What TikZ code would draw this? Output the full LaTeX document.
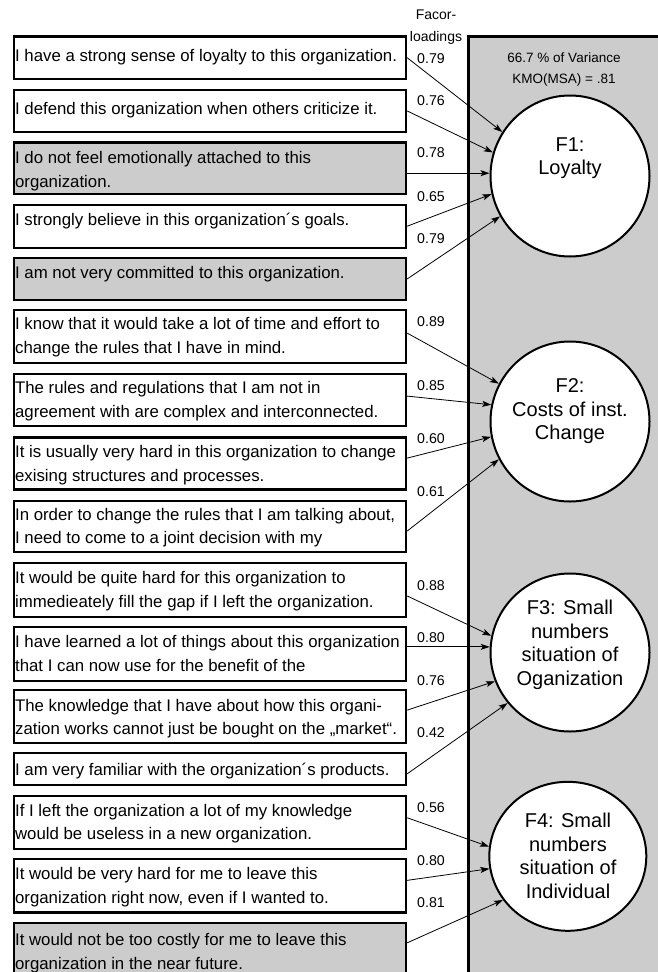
\documentclass[tikz,border=0pt]{standalone}
\usepackage{fontspec}
\setmainfont{Liberation Sans}
\usetikzlibrary{arrows.meta,shapes.geometric}
\definecolor{boxgray}{gray}{0.8}
\newcommand{\qtext}[3]{\parbox[c][#1][t]{390pt}{\raggedright\vspace*{#2}\strut#3}}
\tikzset{
  qbox/.style={draw, line width=2.2pt, fill=white, inner xsep=1pt, inner ysep=0pt,
    anchor=north west, font=\fontsize{16.8}{23.3}\selectfont},
  qgray/.style={qbox, fill=boxgray},
  factor/.style={draw, line width=2pt, fill=white, ellipse, inner sep=0pt},
  ftext/.style={align=center, inner sep=0pt, font=\fontsize{20}{23.5}\selectfont},
  load/.style={inner sep=0pt, font=\fontsize{14.2}{17}\selectfont},
  hdr/.style={align=center, inner sep=0pt},
  arr/.style={line width=0.8pt, -{Stealth[length=9pt,width=6pt,inset=2pt]}},
}
\begin{document}
\begin{tikzpicture}[x=1pt,y=-1pt]
\useasboundingbox (0,0) rectangle (658,972);
\clip (0,0) rectangle (658,972);
\fill[white] (0,0) rectangle (658,972);
% panel
\draw[fill=boxgray, line width=2.5pt] (468.3,36.5) rectangle (720,1020);
% header texts
\node[hdr, font=\fontsize{14}{22}\selectfont] (fl) at (436,27.3) {Facor-\\loadings};
\node[hdr, font=\fontsize{13.5}{21}\selectfont] (var) at (564,70) {66.7 \% of Variance\\KMO(MSA) = .81};
% item boxes
\node[qbox] (b1) at (13,35.3) {\qtext{42.7pt}{8.5pt}{I have a strong sense of loyalty to this organization.}};
\node[qbox] (b2) at (13,89) {\qtext{41.7pt}{8pt}{I defend this organization when others criticize it.}};
\node[qgray] (b3) at (13,141.3) {\qtext{51.7pt}{5pt}{I do not feel emotionally attached to this\\organization.}};
\node[qbox] (b4) at (13,203.5) {\qtext{43.2pt}{4.3pt}{I strongly believe in this organization´s goals.}};
\node[qgray] (b5) at (13,256.7) {\qtext{42.3pt}{4.5pt}{I am not very committed to this organization.}};
\node[qbox] (b6) at (13,309) {\qtext{53pt}{3.5pt}{I know that it would take a lot of time and effort to\\change the rules that I have in mind.}};
\node[qbox] (b7) at (13,373) {\qtext{52pt}{3.5pt}{The rules and regulations that I am not in\\agreement with are complex and interconnected.}};
\node[qbox] (b8) at (13,436.3) {\qtext{52pt}{4pt}{It is usually very hard in this organization to change\\exising structures and processes.}};
\node[qbox] (b9) at (13,499.7) {\qtext{51.3pt}{3.4pt}{In order to change the rules that I am talking about,\\I need to come to a joint decision with my}};
\node[qbox] (b10) at (13,562) {\qtext{53.7pt}{4.4pt}{It would be quite hard for this organization to\\immedieately fill the gap if I left the organization.}};
\node[qbox] (b11) at (13,625.7) {\qtext{54pt}{4.6pt}{I have learned a lot of things about this organization\\that I can now use for the benefit of the}};
\node[qbox] (b12) at (13,688.8) {\qtext{53.4pt}{4.8pt}{The knowledge that I have about how this organi-\\zation works cannot just be bought on the „market“.}};
\node[qbox] (b13) at (13,752.2) {\qtext{31.8pt}{5.6pt}{I am very familiar with the organization´s products.}};
\node[qbox] (b14) at (13,794.7) {\qtext{53.3pt}{4.3pt}{If I left the organization a lot of my knowledge\\would be useless in a new organization.}};
\node[qbox] (b15) at (13,858) {\qtext{53.3pt}{4.4pt}{It would be very hard for me to leave this\\organization right now, even if I wanted to.}};
\node[qgray] (b16) at (13,921.7) {\qtext{60pt}{6.8pt}{It would not be too costly for me to leave this\\organization in the near future.}};
% factors
\node[factor, minimum width=159pt, minimum height=161pt] (F1) at (570,176) {};
\node[factor, minimum width=159pt, minimum height=160pt] (F2) at (570,421.5) {};
\node[factor, minimum width=159pt, minimum height=158pt] (F3) at (570,652.5) {};
\node[factor, minimum width=157pt, minimum height=149pt] (F4) at (567.8,856.3) {};
\node[ftext] (F1t) at (570,158) {F1:\\Loyalty};
\node[ftext] (F2t) at (570,411.5) {F2:\\Costs of inst.\\Change};
\node[ftext] (F3t) at (570,645) {F3: Small\\numbers\\situation of\\Oganization};
\node[ftext] (F4t) at (568,856) {F4: Small\\numbers\\situation of\\Individual};
% loadings
\node[load] (l1) at (431,59) {0.79};
\node[load] (l2) at (431,100.8) {0.76};
\node[load] (l3) at (431,153) {0.78};
\node[load] (l4) at (431,196.7) {0.65};
\node[load] (l5) at (431,239) {0.79};
\node[load] (l6) at (431,322) {0.89};
\node[load] (l7) at (431,385.5) {0.85};
\node[load] (l8) at (431,438.8) {0.60};
\node[load] (l9) at (431,491.7) {0.61};
\node[load] (l10) at (431,586) {0.88};
\node[load] (l11) at (431,638) {0.80};
\node[load] (l12) at (431,681) {0.76};
\node[load] (l13) at (431,733) {0.42};
\node[load] (l14) at (431,807.8) {0.56};
\node[load] (l15) at (431,860.5) {0.80};
\node[load] (l16) at (431,902.5) {0.81};
% arrows
\draw[arr] (b1.east) -- (F1.147);
\draw[arr] (b2.east) -- (F1.163);
\draw[arr] (b3.east |- F1.178) -- (F1.178);
\draw[arr] (b4.east) -- (F1.193);
\draw[arr] (b5.east) -- (F1.210);
\draw[arr] ([yshift=3.5pt]b6.east) -- (F2.152);
\draw[arr] ([yshift=4pt]b7.east) -- (F2.168);
\draw[arr] ([yshift=5.3pt]b8.east) -- (F2.191);
\draw[arr] ([yshift=-4.6pt]b9.east) -- (F2.208);
\draw[arr] ([yshift=-6pt]b10.east) -- (F3.168);
\draw[arr] (b11.east |- F3.176) -- (F3.176);
\draw[arr] ([yshift=6.5pt]b12.east) -- (F3.201);
\draw[arr] ([yshift=-4.6pt]b13.east) -- (F3.219);
\draw[arr] ([yshift=4.7pt]b14.east) -- (F4.173);
\draw[arr] ([yshift=5.4pt]b15.east) -- (F4.189);
\draw[arr] ([yshift=10pt]b16.east) -- (F4.214);
\end{tikzpicture}
\end{document}
